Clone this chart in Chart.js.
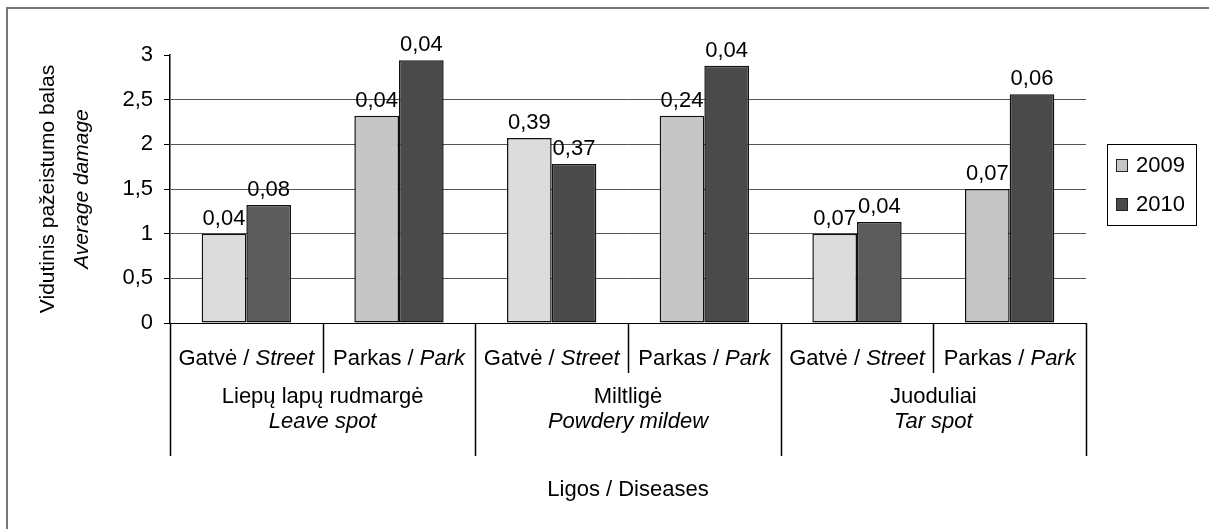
<!DOCTYPE html>
<html><head><meta charset="utf-8">
<script src="https://cdn.jsdelivr.net/npm/chart.js@4.4.1/dist/chart.umd.min.js"></script>
<style>html,body{margin:0;padding:0;background:#fff}#wrap{width:1209px;height:529px;position:relative}</style>
</head><body><div id="wrap"><canvas id="c"></canvas></div>
<script>
// ---- data ----
const diseasesLt = ['Liepų lapų rudmargė', 'Miltligė', 'Juoduliai'];
const diseasesEn = ['Leave spot', 'Powdery mildew', 'Tar spot'];
const sitesLt = ['Gatvė', 'Parkas'];
const sitesEn = ['Street', 'Park'];
const years = ['2009', '2010'];
const values2009 = [1.00, 2.32, 2.07, 2.32, 1.00, 1.50];
const values2010 = [1.32, 2.94, 1.78, 2.88, 1.13, 2.56];
const labels2009 = ['0,04', '0,04', '0,39', '0,24', '0,07', '0,07'];
const labels2010 = ['0,08', '0,04', '0,37', '0,04', '0,04', '0,06'];
const yTickLabels = ['0', '0,5', '1', '1,5', '2', '2,5', '3'];
const yTitle = ['Vidutinis pažeistumo balas', 'Average damage'];
const xTitle = 'Ligos / Diseases';

const categories = [];
diseasesLt.forEach((d, di) => sitesLt.forEach((s, si) => categories.push(s + ' / ' + sitesEn[si])));

// ---- styles ----
const FONT = '"Liberation Sans", Arial, sans-serif';
const fnt = (size, italic) => (italic ? 'italic ' : '') + size + 'px ' + FONT;
const colors2009 = ['#dcdcdc', '#c6c6c6', '#dcdcdc', '#c6c6c6', '#dcdcdc', '#c6c6c6'];
const colors2010 = ['#5c5c5c', '#4a4a4a', '#4a4a4a', '#4a4a4a', '#5c5c5c', '#4a4a4a'];
const legendColors = ['#c6c6c6', '#4a4a4a'];
const dataLabels = [labels2009, labels2010];

const decor = {
  id: 'decor',
  afterDraw(chart) {
    const ctx = chart.ctx, ca = chart.chartArea, xs = chart.scales.x;
    ctx.save();
    // outer frame (left + top)
    ctx.strokeStyle = '#777'; ctx.lineWidth = 2;
    ctx.beginPath(); ctx.moveTo(7, 529); ctx.lineTo(7, 8); ctx.lineTo(1209, 8); ctx.stroke();

    // data labels
    ctx.fillStyle = '#000'; ctx.font = fnt(22); ctx.textAlign = 'center'; ctx.textBaseline = 'alphabetic';
    chart.data.datasets.forEach((ds, di) => {
      chart.getDatasetMeta(di).data.forEach((el, i) => {
        ctx.fillText(dataLabels[di][i], el.x, el.y - 9);
      });
    });

    // category separators
    const half = (xs.getPixelForValue(1) - xs.getPixelForValue(0)) / 2;
    const x0 = xs.getPixelForValue(0) - half;
    ctx.strokeStyle = '#000'; ctx.lineWidth = 1.5;
    for (let k = 0; k <= categories.length; k++) {
      const x = Math.round(x0 + k * 2 * half) + 0.5;
      const yEnd = (k % 2 === 0) ? ca.bottom + 133 : ca.bottom + 50;
      ctx.beginPath(); ctx.moveTo(x, ca.bottom); ctx.lineTo(x, yEnd); ctx.stroke();
    }

    // category labels (mixed regular / italic)
    ctx.textAlign = 'left';
    categories.forEach((c, i) => {
      const si = i % 2;
      const a = sitesLt[si] + ' / ', b = sitesEn[si];
      ctx.font = fnt(22); const wa = ctx.measureText(a).width;
      ctx.font = fnt(22, true); const wb = ctx.measureText(b).width;
      const cx = xs.getPixelForValue(i);
      const sx = cx - (wa + wb) / 2;
      ctx.font = fnt(22); ctx.fillText(a, sx, ca.bottom + 42);
      ctx.font = fnt(22, true); ctx.fillText(b, sx + wa, ca.bottom + 42);
    });

    // group labels
    ctx.textAlign = 'center';
    diseasesLt.forEach((d, gi) => {
      const cx = (xs.getPixelForValue(gi * 2) + xs.getPixelForValue(gi * 2 + 1)) / 2;
      ctx.font = fnt(22); ctx.fillText(d, cx, ca.bottom + 80);
      ctx.font = fnt(22, true); ctx.fillText(diseasesEn[gi], cx, ca.bottom + 105);
    });

    // x title
    ctx.font = fnt(22);
    ctx.fillText(xTitle, (ca.left + ca.right) / 2, ca.bottom + 173);

    // y title
    const cy = (ca.top + ca.bottom) / 2;
    ctx.save(); ctx.translate(54, cy); ctx.rotate(-Math.PI / 2);
    ctx.font = fnt(21); ctx.fillText(yTitle[0], 0, 0); ctx.restore();
    ctx.save(); ctx.translate(88, cy); ctx.rotate(-Math.PI / 2);
    ctx.font = fnt(21, true); ctx.fillText(yTitle[1], 0, 0); ctx.restore();

    // legend
    ctx.fillStyle = '#fff'; ctx.fillRect(1107, 144, 90, 82);
    ctx.strokeStyle = '#000'; ctx.lineWidth = 1;
    ctx.strokeRect(1107.5, 144.5, 89, 81);
    const rows = [159, 198];
    chart.data.datasets.forEach((ds, di) => {
      ctx.fillStyle = legendColors[di];
      ctx.fillRect(1116, rows[di], 12, 13);
      ctx.strokeStyle = '#222'; ctx.strokeRect(1116.5, rows[di] + 0.5, 11, 12);
      ctx.fillStyle = '#000'; ctx.font = fnt(22); ctx.textAlign = 'left';
      ctx.fillText(ds.label, 1136, rows[di] + 13);
    });
    ctx.restore();
  }
};

new Chart(document.getElementById('c'), {
  type: 'bar',
  data: {
    labels: categories,
    datasets: [
      { label: years[0], data: values2009, backgroundColor: colors2009, borderColor: '#111', borderWidth: 1.5, borderSkipped: false },
      { label: years[1], data: values2010, backgroundColor: colors2010, borderColor: '#111', borderWidth: 1.5, borderSkipped: false }
    ]
  },
  options: {
    responsive: true, maintainAspectRatio: false, animation: false,
    devicePixelRatio: 1,
    layout: { padding: { left: 0, top: 55, right: 123, bottom: 206 } },
    datasets: { bar: { categoryPercentage: 0.585, barPercentage: 1.0 } },
    plugins: { legend: { display: false }, tooltip: { enabled: false } },
    scales: {
      x: { display: false },
      y: {
        min: 0, max: 3,
        afterFit(s) { s.width = 170; },
        ticks: { stepSize: 0.5, color: '#000', font: { family: FONT, size: 22 }, padding: 11,
                 callback: (v, i) => yTickLabels[i] },
        grid: {
          color: c => (c.tick && c.tick.value === 3) ? 'rgba(0,0,0,0)' : (c.tick && c.tick.value === 0 ? '#000' : '#555'),
          tickColor: '#000', tickLength: 6, lineWidth: 1
        },
        border: { display: true, color: '#000', width: 1.5 }
      }
    }
  },
  plugins: [decor]
});
</script></body></html>
